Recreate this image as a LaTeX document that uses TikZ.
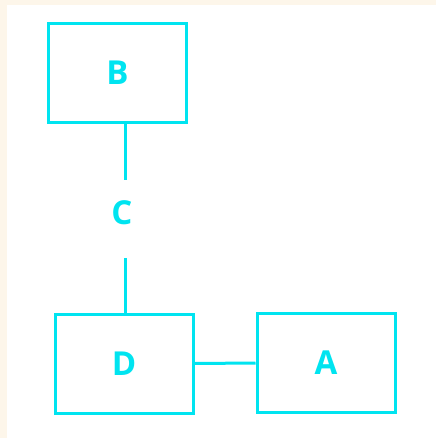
\documentclass[tikz,border=0pt]{standalone}
\usepackage{fontspec}
\setmainfont{Open Sans}
\definecolor{cy}{RGB}{0,228,240}
\definecolor{cream}{RGB}{253,246,234}
\begin{document}
\begin{tikzpicture}[x=1pt,y=-1pt,
  boxst/.style={draw=cy,line width=3pt,minimum width=138pt,minimum height=99pt,inner sep=0pt,text=cy,font=\fontsize{33}{33}\selectfont\bfseries},
  lbl/.style={text=cy,inner sep=0pt,font=\fontsize{33}{33}\selectfont\bfseries},
  conn/.style={draw=cy,line width=3pt}]
\useasboundingbox (0,0) rectangle (436,438);
\fill[cream] (0,0) rectangle (436,438);
\fill[white] (7,5) rectangle (436,438);
\node[boxst] (B) at (117.5,73) {B};
\node[boxst] (D) at (124,363.5) {D};
\node[boxst] (A) at (326,363) {A};
\node[lbl] (C) at (122,213) {C};
\coordinate (c1) at (125,180);
\coordinate (c2) at (125,258);
\draw[conn] (B.south -| c1) -- (c1);
\draw[conn] (c2) -- (D.north -| c2);
\draw[conn] (D.east) -- (A.west);
\end{tikzpicture}
\end{document}
